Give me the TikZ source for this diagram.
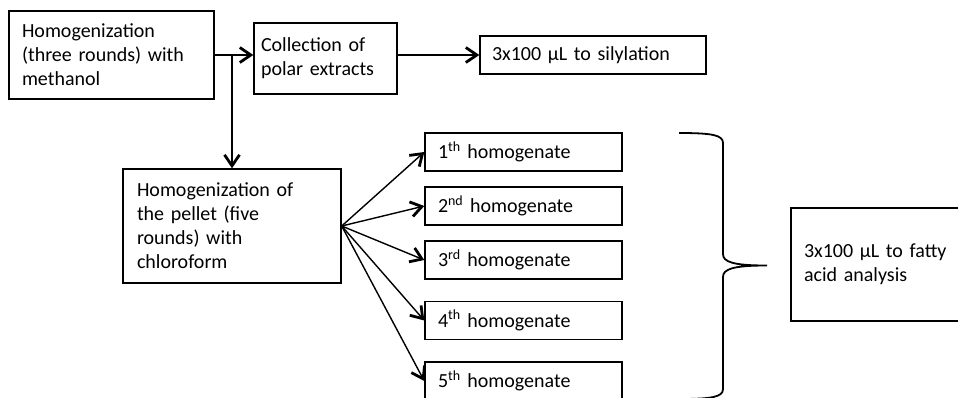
\documentclass[tikz,border=0pt]{standalone}
\usepackage{fontspec}
\setmainfont{Carlito}
\usetikzlibrary{arrows.meta, positioning, calc}

\tikzset{
  stepbox/.style={draw, line width=1.4pt, font=\fontsize{20}{24}\selectfont,
    align=left, inner ysep=0pt, inner xsep=13pt},
  flow/.style={line width=1.4pt, ->},
}

\begin{document}
\begin{tikzpicture}[x=1pt, y=-1pt, >={Straight Barb[length=11pt, width=15pt, line width=2.8pt]}]

% Frame (fixes page size)
\useasboundingbox (0,0) rectangle (958,397);

% Polar branch
\node[stepbox, text width=179pt, minimum height=88pt] (meth) at (111.5,55)
  {Homogenization\\(three rounds) with\\methanol};
\node[stepbox, inner xsep=7pt, text width=129pt, minimum height=71pt] (polar) at (325.5,58.5)
  {Collection of\\polar extracts};
\node[stepbox, inner xsep=12pt, text width=202pt, minimum height=38pt] (sil) at (593,55)
  {3x100 µL to silylation};

\draw[flow] (meth.east) -- (meth.east -| polar.west);
\draw[flow] (polar.east |- sil.west) -- (sil.west);

% Apolar branch
\node[stepbox, inner xsep=14pt, text width=190pt, minimum height=114pt] (chl) at (232,226)
  {Homogenization of\\the pellet (five\\rounds) with\\chloroform};
\coordinate (split) at (chl.north |- meth.east);
\draw[flow] (split) -- (chl.north);

% Homogenates
\node[stepbox, text width=171pt, minimum height=38pt] (h1) at (523.5,152) {1\textsuperscript{th} homogenate};
\node[stepbox, text width=171pt, minimum height=38pt] (h2) at (523.5,206) {2\textsuperscript{nd} homogenate};
\node[stepbox, text width=171pt, minimum height=38pt] (h3) at (523.5,260) {3\textsuperscript{rd} homogenate};
\node[stepbox, text width=171pt, minimum height=38pt] (h4) at (523.5,320.5) {4\textsuperscript{th} homogenate};
\node[stepbox, text width=171pt, minimum height=38pt] (h5) at (523.5,381) {5\textsuperscript{th} homogenate};

\foreach \i in {1,...,5}
  \draw[flow] (chl.east) -- (h\i.west);

% Brace
\draw[line width=1.8pt]
  (679,133) .. controls (712,133) and (723,135) .. (723,143)
  -- (723,254) .. controls (723,262) and (733,265.5) .. (767,265.5)
  (723,277) .. controls (723,269) and (733,265.5) .. (767,265.5)
  (723,277) -- (723,389) .. controls (723,397) and (712,399) .. (679,399);

% Pooled analysis
\node[stepbox, text width=174pt, minimum height=113pt] (fat) at (891,264.5)
  {3x100 µL to fatty\\acid analysis};

\end{tikzpicture}
\end{document}
